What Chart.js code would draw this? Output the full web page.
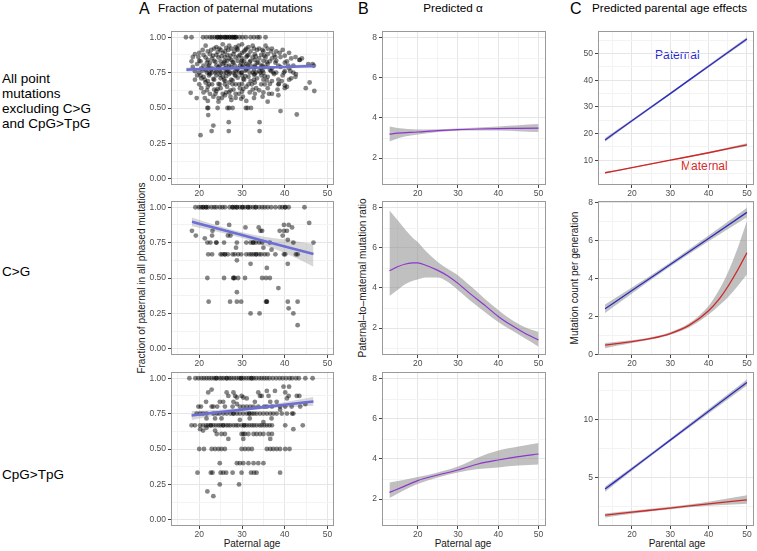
<!DOCTYPE html>
<html>
<head>
<meta charset="utf-8">
<script src="https://cdn.jsdelivr.net/npm/chart.js@4.4.0/dist/chart.umd.min.js"></script>
<style>
  body { margin: 0; background: #fff; width: 757px; height: 551px; position: relative; overflow: hidden; font-family: "Liberation Sans", Arial, sans-serif; }
  canvas { position: absolute; }
  .t { position: absolute; white-space: nowrap; color: #000; }
  .hd { font-size: 11.7px; line-height: 11.7px; }
  .big { font-size: 16px; line-height: 16px; }
  .row { font-size: 13.5px; line-height: 15px; left: 2px; }
  .ax { font-size: 10px; line-height: 10px; color: #1a1a1a; }
  .rot { transform: translate(-50%, -50%) rotate(-90deg); }
</style>
</head>
<body>
<div class="t big" style="left:139px;top:1px">A</div>
<div class="t hd" style="left:158px;top:2px">Fraction of paternal mutations</div>
<div class="t big" style="left:358px;top:1px">B</div>
<div class="t hd" style="left:453px;top:2px;transform:translateX(-50%)">Predicted α</div>
<div class="t big" style="left:570px;top:1px">C</div>
<div class="t hd" style="left:592px;top:2px">Predicted parental age effects</div>

<div class="t row" style="top:71px">All point<br>mutations<br>excluding C&gt;G<br>and CpG&gt;TpG</div>
<div class="t row" style="top:264px">C&gt;G</div>
<div class="t row" style="top:467px">CpG&gt;TpG</div>

<div class="t ax rot" style="left:142px;top:278px">Fraction of paternal in all phased mutations</div>
<div class="t ax rot" style="left:363px;top:278px">Paternal–to–maternal mutation ratio</div>
<div class="t ax rot" style="left:575px;top:278px">Mutation count per generation</div>

<div class="t ax" style="left:252px;top:539px;transform:translateX(-50%)">Paternal age</div>
<div class="t ax" style="left:463px;top:539px;transform:translateX(-50%)">Paternal age</div>
<div class="t ax" style="left:677px;top:539px;transform:translateX(-50%)">Parental age</div>

<div class="t" style="left:655px;top:49px;font-size:12px;line-height:12px;color:#2b2bd0">Paternal</div>
<div class="t" style="left:681px;top:160px;font-size:12px;line-height:12px;color:#d42a2a">Maternal</div>

<script>
// ---- column A: fraction of paternal mutations (age, fraction) ----
const allPts = [
  [16.9,1],[18.2,1],[20.9,1],[21.7,1],[22.5,1],[23.0,1],[23.6,1],[24.2,1],[24.6,1],[25.0,1],[25.5,1],[26.0,1],[26.5,1],[27.1,1],[27.7,1],
  [28.2,1],[28.6,1],[29.4,1],[30.1,1],[30.9,1],[32.0,1],[32.8,1],[33.6,1],[34.1,1],[35.5,1],[24.2,1],[26.0,1],[27.7,1],[28.2,1],
  [25.0,1],[26.5,1],[27.1,1],[28.6,1],
  [21.5,.94],[24.0,.93],[25.5,.95],[27.0,.94],[28.5,.93],[30.0,.95],[31.5,.93],[32.5,.94],[34.0,.92],[35.5,.94],[37.0,.92],[26.3,.925],[29.2,.94],
  [20.8,.91],[22.0,.90],[23.5,.92],[25.0,.91],[26.0,.90],[27.5,.92],[29.0,.91],[30.5,.90],[31.0,.92],[32.0,.90],[33.5,.91],[35.0,.90],
  [36.0,.92],[38.0,.90],[39.5,.91],[41.0,.89],[24.3,.895],[28.2,.90],
  [19.0,.88],[20.0,.89],[21.0,.875],[22.5,.88],[24.0,.875],[25.5,.89],[26.5,.875],[28.0,.88],[29.5,.875],[30.0,.889],[31.5,.875],
  [33.0,.88],[34.5,.875],[36.0,.88],[37.5,.875],[40.0,.87],[42.5,.86],[44.0,.85],
  [18.5,.86],[21.5,.857],[23.0,.85],[24.5,.857],[26.0,.86],[27.0,.85],[28.5,.857],[30.0,.85],[31.0,.86],[32.5,.857],[34.0,.85],
  [35.5,.857],[37.0,.85],[39.0,.86],[41.5,.85],
  [18.2,.83],[20.0,.833],[22.0,.84],[23.5,.833],[25.0,.83],[26.5,.833],[27.5,.84],[29.0,.833],[30.5,.83],[32.0,.833],[33.0,.84],
  [35.0,.833],[36.5,.83],[38.0,.833],[40.5,.83],[43.5,.84],[26.0,.833],[30.0,.833],
  [19.5,.81],[21.0,.8],[22.5,.82],[24.0,.8],[25.5,.81],[27.0,.8],[28.0,.82],[29.5,.8],[31.0,.81],[32.0,.8],[33.5,.82],[34.5,.8],
  [36.0,.81],[38.5,.8],[40.0,.82],[42.0,.8],[45.5,.81],[24.8,.8],[30.3,.8],[33.0,.8],
  [18.5,.79],[20.5,.78],[22.0,.79],[23.0,.78],[24.5,.789],[26.0,.78],[27.5,.79],[29.0,.78],[30.0,.789],[31.5,.78],[33.0,.79],
  [34.5,.78],[35.5,.79],[37.0,.78],[39.0,.79],[41.0,.78],
  [19.0,.76],[20.0,.75],[21.5,.77],[23.0,.75],[24.0,.76],[25.0,.75],[26.5,.77],[28.0,.75],[28.5,.76],[30.0,.75],[31.0,.77],[32.5,.75],
  [34.0,.76],[35.0,.75],[36.5,.77],[38.0,.75],[40.0,.76],[42.0,.75],[46.8,.8],[22.3,.75],[25.8,.75],[27.2,.75],[29.3,.75],[33.3,.75],
  [19.5,.73],[21.0,.72],[22.5,.74],[24.0,.73],[25.5,.72],[27.0,.74],[28.5,.727],[30.0,.73],[31.5,.72],[33.0,.74],[34.5,.73],[36.0,.72],
  [37.5,.74],[39.5,.73],[42.5,.72],
  [19.0,.70],[20.5,.71],[22.0,.69],[23.5,.70],[25.0,.71],[26.0,.69],[27.5,.70],[29.0,.714],[30.5,.70],[32.0,.69],[33.5,.71],[35.0,.70],
  [37.0,.69],[38.5,.70],[41.0,.70],
  [20.0,.667],[21.5,.68],[23.0,.667],[24.5,.67],[26.0,.667],[27.0,.68],[28.5,.667],[30.0,.67],[31.5,.667],[33.0,.68],[34.5,.667],
  [36.5,.67],[38.5,.667],[40.0,.66],[45.8,.68],
  [20.5,.64],[22.0,.65],[23.5,.63],[25.0,.64],[26.5,.65],[28.0,.63],[29.5,.64],[31.0,.65],[32.5,.63],[34.0,.625],[36.0,.64],[40.0,.64],[44.9,.64],
  [18.0,.607],[21.0,.61],[22.5,.60],[24.0,.62],[25.5,.60],[27.0,.61],[28.5,.60],[30.0,.615],[33.0,.60],[35.0,.61],[37.0,.60],[46.9,.62],
  [19.4,.57],[21.3,.57],[23.3,.58],[24.5,.57],[26.0,.59],[28.5,.571],[30.2,.58],[32.8,.57],[34.8,.58],[38.5,.59],
  [22.0,.55],[24.5,.545],[27.5,.556],[31.0,.55],[36.0,.545],
  [21.9,.5],[22.1,.5],[24.3,.5],[26.6,.5],[27.0,.5],[27.8,.5],[30.9,.5],[31.3,.5],[32.1,.5],
  [22.1,.45],[42.8,.454],[39.0,.478],[26.9,.40],[34.1,.40],[23.3,.376],[22.9,.337],[26.9,.337],[34.1,.337],[20.3,.308],
  [43.4,.84],[42.6,.74],[46.5,.81],[40.5,.65],[38.6,.67],[41.5,.71],
  // dense core of the cloud
  [22.8,.91],[24.7,.92],[26.8,.91],[28.8,.92],[30.8,.91],[32.8,.92],[34.8,.91],[23.2,.87],[25.2,.865],[27.3,.87],[29.2,.865],
  [31.2,.87],[33.2,.865],[35.2,.87],[21.8,.82],[23.8,.825],[25.8,.82],[27.8,.825],[29.8,.82],[31.8,.825],[33.8,.82],[35.8,.825],
  [37.8,.82],[22.3,.80],[26.3,.80],[28.3,.80],[31.3,.80],[34.8,.80],[20.8,.765],[22.8,.77],[24.8,.765],[26.8,.76],[28.8,.77],
  [30.8,.765],[32.8,.77],[34.8,.765],[36.8,.76],[21.8,.75],[23.8,.75],[26.3,.75],[29.8,.75],[31.8,.75],[34.3,.75],[37.3,.75],
  [22.3,.73],[24.8,.735],[26.3,.725],[28.3,.735],[30.8,.725],[32.8,.735],[35.3,.725],[21.3,.70],[23.3,.705],[25.8,.70],[27.8,.695],
  [30.3,.705],[32.8,.70],[35.8,.695],[22.3,.667],[24.8,.667],[27.8,.667],[29.3,.667],[32.3,.667],[35.3,.667],[21.8,.625],
  [24.3,.635],[27.3,.625],[30.3,.635],[33.3,.64],[23.8,.60],[26.3,.61],[29.3,.60],[31.8,.61],[25.3,.57],[27.3,.58],[29.8,.565],
  [36.3,.60],[38.3,.63],[39.3,.69],[39.8,.75],[40.8,.80],[41.3,.76],[37.8,.86],[38.8,.89],[36.8,.90],[20.3,.83],[19.8,.86],[20.3,.73]
];

// C>G: rows of [fraction, ages]
const cgRows = [
  [1.0, [19.1,19.9,20.4,20.9,21.6,22.1,22.9,23.5,24.0,24.8,25.4,26.0,27.1,27.8,28.3,28.8,29.5,30.1,30.7,31.4,31.9,32.6,33.2,34.0,
         34.7,35.3,36.0,36.8,37.8,38.8,39.4,40.1,40.9,44.6,20.9,21.6,27.8,28.8,30.1,31.4,33.2,40.1]],
  [0.889, [24.2, 45.7]],
  [0.875, [27.0, 39.8, 40.9]],
  [0.857, [30.8, 33.9, 41.7]],
  [0.833, [18.3, 23.1, 34.3, 34.7, 38.8, 39.8, 40.5]],
  [0.8, [19.2, 23.0, 26.7, 27.3, 39.5]],
  [0.78, [21.3]],
  [0.77, [40.7]],
  [0.75, [21.9, 22.6, 24.0, 25.8, 28.8, 31.0, 32.0, 32.6, 33.2, 34.0, 34.7, 36.5, 42.0, 46.7, 24.0, 32.6]],
  [0.714, [28.6, 35.0]],
  [0.70, [36.9]],
  [0.667, [22.1, 23.0, 25.0, 25.4, 26.0, 26.7, 27.8, 28.3, 29.1, 29.8, 31.0, 31.7, 32.2, 32.7, 33.3, 34.0, 34.5, 35.3, 36.0,
           37.8, 39.8, 40.1, 42.6, 43.0, 26.0, 33.3]],
  [0.625, [28.8]],
  [0.60, [32.0, 40.7]],
  [0.571, [35.8]],
  [0.5, [21.9, 25.8, 28.0, 28.3, 29.1, 30.7, 34.7, 35.6, 36.5, 28.0]],
  [0.429, [38.5]],
  [0.4, [28.8]],
  [0.333, [22.2, 27.2, 28.8, 29.8, 35.6, 35.8, 40.7, 43.0, 35.8]],
  [0.286, [40.9]],
  [0.25, [32.0, 34.1, 42.0]],
  [0.167, [43.0]]
];

// CpG>TpG: rows of [fraction, ages]
const cpgRows = [
  [1.0, [17.7,19.1,19.8,20.5,21.1,21.7,22.3,22.9,23.5,24.0,24.7,25.2,25.7,26.4,27.0,27.5,28.1,28.7,29.3,29.8,30.4,31.0,31.6,32.2,
         32.7,33.3,34.0,34.6,35.2,35.8,36.4,37.2,38.0,38.8,39.5,40.3,41.1,41.7,42.6,43.3,44.8,46.5,24.0,26.4,29.8,32.2]],
  [0.94, [39.7, 41.0]],
  [0.92, [22.9]],
  [0.91, [35.8, 37.7]],
  [0.90, [22.1, 26.4, 28.0, 33.8, 40.1]],
  [0.875, [26.8, 28.4, 29.9, 34.2, 34.6, 36.2, 40.9, 42.8, 43.4]],
  [0.864, [28.8, 30.3]],
  [0.857, [31.1, 40.5]],
  [0.833, [21.6, 24.8, 25.6, 28.0, 33.0, 36.6, 38.1]],
  [0.818, [28.8, 44.8]],
  [0.8, [19.8, 20.4, 22.9, 23.3, 24.2, 26.0, 27.8, 29.5, 30.3, 31.1, 31.9, 32.7, 33.8, 35.2, 35.8, 37.0, 38.9, 40.1, 41.6, 43.6]],
  [0.778, [38.9]],
  [0.75, [19.4, 20.2, 20.9, 21.7, 23.3, 24.1, 24.7, 25.6, 26.4, 27.3, 28.0, 28.8, 29.5, 30.3, 31.1, 31.7, 32.3, 32.8, 33.4, 34.2,
          35.0, 35.8, 36.6, 37.3, 38.1, 39.3, 40.5, 41.7, 42.0, 28.0, 31.7]],
  [0.716, [21.7, 23.7, 25.2, 31.8, 36.9]],
  [0.706, [29.5]],
  [0.69, [35.0]],
  [0.667, [18.2, 19.0, 20.2, 20.9, 21.6, 22.1, 22.7, 23.3, 23.9, 24.5, 25.0, 25.6, 26.3, 26.8, 27.3, 28.0, 28.6, 29.1, 29.9, 30.5,
           31.1, 31.7, 32.3, 32.8, 33.4, 34.1, 34.6, 35.2, 35.8, 36.4, 37.0, 40.1, 44.2, 22.7, 25.6, 30.5]],
  [0.65, [21.7]],
  [0.64, [20.2, 42.0]],
  [0.63, [20.9, 23.7]],
  [0.606, [24.1, 25.2, 26.0, 29.9, 30.3, 30.7, 31.5, 32.7, 33.4, 34.2, 35.0, 36.2, 37.0]],
  [0.571, [26.8, 30.3, 36.6]],
  [0.5, [20.0, 21.1, 22.9, 23.7, 24.5, 25.2, 26.0, 29.9, 30.7, 31.5, 32.3, 35.8, 36.6, 37.3, 38.1, 38.9, 40.1, 41.1]],
  [0.4, [24.8, 28.8, 29.5, 30.3, 31.5, 32.7, 33.8, 35.0]],
  [0.333, [19.6, 22.7, 23.1, 25.0, 25.6, 26.3, 27.8, 29.9, 32.1, 32.8, 33.4, 38.9]],
  [0.25, [24.8, 29.3]],
  [0.2, [21.9]],
  [0.167, [23.3]]
];

// linear fits with confidence band (column A)
const allFitX = [17, 25, 32, 40, 47];
const allFit  = [0.771, 0.778, 0.784, 0.790, 0.797];
const allLo   = [0.756, 0.769, 0.777, 0.781, 0.781];
const allHi   = [0.786, 0.787, 0.791, 0.799, 0.813];

const cgFitX = [18.3, 24, 30, 36, 42, 46.7];
const cgFit  = [0.897, 0.851, 0.803, 0.755, 0.707, 0.669];
const cgLo   = [0.866, 0.829, 0.782, 0.722, 0.650, 0.580];
const cgHi   = [0.928, 0.873, 0.824, 0.788, 0.764, 0.740];

const cpgFitX = [18.2, 25, 32, 40, 46.7];
const cpgFit  = [0.737, 0.761, 0.785, 0.813, 0.836];
const cpgLo   = [0.705, 0.744, 0.773, 0.795, 0.805];
const cpgHi   = [0.769, 0.778, 0.797, 0.831, 0.867];

// ---- column B: predicted alpha ----
const allAlphaX = [13, 15, 20, 25, 30, 35, 40, 45, 50];
const allAlpha  = [3.19, 3.24, 3.30, 3.37, 3.42, 3.45, 3.47, 3.48, 3.49];
const allAlphaLo = [2.83, 2.98, 3.17, 3.30, 3.36, 3.38, 3.37, 3.34, 3.30];
const allAlphaHi = [3.57, 3.50, 3.43, 3.44, 3.48, 3.52, 3.58, 3.64, 3.70];

const cgAlphaX = [13, 15, 17, 19, 20, 22, 25, 27.5, 30, 33, 36.5, 40, 43, 46.5, 50];
const cgAlpha  = [4.86, 5.06, 5.20, 5.26, 5.26, 5.14, 4.88, 4.60, 4.23, 3.72, 3.16, 2.58, 2.17, 1.75, 1.40];
const cgAlphaLo = [3.60, 3.90, 4.20, 4.38, 4.43, 4.52, 4.53, 4.30, 3.90, 3.38, 2.83, 2.30, 1.92, 1.50, 1.06];
const cgAlphaHi = [7.87, 7.40, 6.90, 6.46, 6.30, 5.85, 5.30, 4.95, 4.64, 4.12, 3.49, 2.90, 2.45, 2.05, 1.80];

const cpgAlphaX = [13, 16.5, 20, 25, 30, 35, 40, 45, 50];
const cpgAlpha  = [2.33, 2.62, 2.92, 3.20, 3.45, 3.75, 3.95, 4.12, 4.25];
const cpgAlphaLo = [2.05, 2.42, 2.75, 3.08, 3.33, 3.50, 3.58, 3.67, 3.72];
const cpgAlphaHi = [2.83, 2.95, 3.10, 3.33, 3.62, 4.08, 4.42, 4.62, 4.80];

// ---- column C: predicted counts, paternal and maternal ----
const ageX = [13, 20, 30, 40, 50];
const allPat   = [17.6, 24.8, 35.0, 45.3, 55.5];
const allPatLo = [16.9, 24.3, 34.6, 44.8, 54.8];
const allPatHi = [18.3, 25.3, 35.4, 45.8, 56.2];
const allMat   = [5.3, 7.2, 10.0, 12.8, 15.8];
const allMatLo = [5.0, 7.0, 9.8, 12.5, 15.2];
const allMatHi = [5.6, 7.4, 10.2, 13.1, 16.4];

const cgPat   = [2.40, 3.36, 4.73, 6.10, 7.47];
const cgPatLo = [2.18, 3.20, 4.62, 5.95, 7.22];
const cgPatHi = [2.62, 3.52, 4.84, 6.25, 7.72];
const cgMatX  = [13, 16, 20, 25, 30, 35, 40, 42.9, 45, 47.6, 50];
const cgMat   = [0.49, 0.57, 0.67, 0.84, 1.10, 1.54, 2.30, 2.95, 3.56, 4.44, 5.35];
const cgMatLo = [0.33, 0.45, 0.60, 0.78, 1.03, 1.43, 2.10, 2.60, 3.00, 3.60, 4.20];
const cgMatHi = [0.60, 0.67, 0.75, 0.90, 1.17, 1.65, 2.55, 3.45, 4.30, 5.60, 7.00];

const cpgPat   = [4.03, 5.75, 8.22, 10.69, 13.15];
const cpgPatLo = [3.80, 5.60, 8.10, 10.50, 12.90];
const cpgPatHi = [4.25, 5.90, 8.35, 10.88, 13.40];
const cpgMat   = [1.80, 2.05, 2.40, 2.77, 3.10];
const cpgMatLo = [1.60, 1.92, 2.30, 2.60, 2.78];
const cpgMatHi = [1.95, 2.18, 2.52, 2.95, 3.50];

// axis ticks
const ageMajor = [20, 30, 40, 50], ageMinor = [15, 25, 35, 45];
const fracMajor = [0, 0.25, 0.5, 0.75, 1], fracMinor = [0.125, 0.375, 0.625, 0.875];
const alphaMajor = [2, 4, 6, 8], alphaMinor = [1, 3, 5, 7];
const c1Major = [10, 20, 30, 40, 50], c1Minor = [5, 15, 25, 35, 45, 55];
const c2Major = [0, 2, 4, 6, 8], c2Minor = [1, 3, 5, 7];
const c3Major = [5, 10], c3Minor = [2.5, 7.5, 12.5];

// layout
const colA = {l: 171, w: 163, xr: [13.4, 51.5]};
const colB = {l: 382, w: 164, xr: [11.15, 51.85]};
const colC = {l: 598, w: 156, xr: [11.15, 51.85]};
const rowTops = [31, 201, 372];
const panelH = 154;

const BLUE = '#2a2ac2', RED = '#d02626', PURPLE = '#8d35cf', FITA = '#6b6fd6';
const BAND_A = 'rgba(150,150,150,0.38)', BAND = 'rgba(140,140,140,0.55)';

const pts = (xs, ys) => xs.map((x, i) => ({x: x, y: ys[i]}));
const rowPts = rows => rows.flatMap(([y, xs]) => xs.map(x => ({x: x, y: y})));

function line(xs, ys, color, w) {
  return {data: pts(xs, ys), showLine: true, borderColor: color, borderWidth: w, pointRadius: 0,
          fill: false, cubicInterpolationMode: 'monotone'};
}
function band(xs, lo, hi, color) {
  const base = {showLine: true, borderWidth: 0, borderColor: 'rgba(0,0,0,0)', pointRadius: 0, cubicInterpolationMode: 'monotone'};
  return [
    Object.assign({data: pts(xs, lo), fill: false}, base),
    Object.assign({data: pts(xs, hi), fill: '-1', backgroundColor: color}, base)
  ];
}
function dots(data) {
  return {data: data, pointRadius: 2.4, backgroundColor: 'rgba(0,0,0,0.48)', borderWidth: 0, showLine: false};
}

const frame = {
  id: 'frame',
  afterDraw(chart) {
    const a = chart.chartArea, g = chart.ctx;
    g.save();
    g.strokeStyle = '#9a9a9a';
    g.lineWidth = 1;
    g.strokeRect(Math.round(a.left) + 0.5, Math.round(a.top) + 0.5, Math.round(a.width) - 1, Math.round(a.height) - 1);
    g.restore();
  }
};

function axis(range, major, minor, fmt, isX) {
  return {
    type: 'linear', min: range[0], max: range[1],
    afterBuildTicks: s => { s.ticks = major.concat(minor).sort((a, b) => a - b).map(v => ({value: v})); },
    afterFit: s => { if (isX) s.height = 20; else s.width = 45; },
    border: {display: false},
    grid: {
      color: c => major.includes(c.tick.value) ? '#e6e6e6' : '#f3f3f3',
      tickColor: c => major.includes(c.tick.value) ? '#444' : 'rgba(0,0,0,0)',
      tickLength: 3, lineWidth: 1
    },
    ticks: {
      autoSkip: false, maxRotation: 0, padding: isX ? 1 : 2, color: '#4d4d4d',
      font: {family: 'Liberation Sans', size: 8.5},
      callback: v => major.includes(v) ? fmt(v) : ''
    }
  };
}

function panel(col, row, yr, yMajor, yMinor, fmt, datasets) {
  const cv = document.createElement('canvas');
  const w = col.w + 45 + 12, h = panelH + 10 + 20;
  cv.width = w; cv.height = h;
  cv.style.left = (col.l - 45) + 'px';
  cv.style.top = (rowTops[row] - 10) + 'px';
  cv.style.width = w + 'px'; cv.style.height = h + 'px';
  document.body.appendChild(cv);
  new Chart(cv, {
    type: 'scatter',
    data: {datasets: datasets},
    options: {
      responsive: false, animation: false, devicePixelRatio: 1,
      layout: {padding: {top: 10, right: 12, left: 0, bottom: 0}, autoPadding: false},
      plugins: {legend: {display: false}, tooltip: {enabled: false}, filler: {drawTime: 'beforeDatasetsDraw'}},
      scales: {
        x: axis(col.xr, ageMajor, ageMinor, v => String(v), true),
        y: axis(yr, yMajor, yMinor, fmt, false)
      }
    },
    plugins: [frame]
  });
}

const f2 = v => v.toFixed(2), f0 = v => String(v);
const fracR = [-0.044, 1.044], alphaR = [0.65, 8.35];

// column A
panel(colA, 0, fracR, fracMajor, fracMinor, f2,
  [line(allFitX, allFit, FITA, 2.6), dots(allPts.map(p => ({x: p[0], y: p[1]}))), ...band(allFitX, allLo, allHi, BAND_A)]);
panel(colA, 1, fracR, fracMajor, fracMinor, f2,
  [line(cgFitX, cgFit, FITA, 2.6), dots(rowPts(cgRows)), ...band(cgFitX, cgLo, cgHi, BAND_A)]);
panel(colA, 2, fracR, fracMajor, fracMinor, f2,
  [line(cpgFitX, cpgFit, FITA, 2.6), dots(rowPts(cpgRows)), ...band(cpgFitX, cpgLo, cpgHi, BAND_A)]);

// column B
panel(colB, 0, alphaR, alphaMajor, alphaMinor, f0,
  [line(allAlphaX, allAlpha, PURPLE, 1.2), ...band(allAlphaX, allAlphaLo, allAlphaHi, BAND)]);
panel(colB, 1, alphaR, alphaMajor, alphaMinor, f0,
  [line(cgAlphaX, cgAlpha, PURPLE, 1.2), ...band(cgAlphaX, cgAlphaLo, cgAlphaHi, BAND)]);
panel(colB, 2, alphaR, alphaMajor, alphaMinor, f0,
  [line(cpgAlphaX, cpgAlpha, PURPLE, 1.2), ...band(cpgAlphaX, cpgAlphaLo, cpgAlphaHi, BAND)]);

// column C
panel(colC, 0, [0.7, 58.5], c1Major, c1Minor, f0,
  [line(ageX, allPat, BLUE, 1.3), line(ageX, allMat, RED, 1.3),
   ...band(ageX, allPatLo, allPatHi, BAND), ...band(ageX, allMatLo, allMatHi, BAND)]);
panel(colC, 1, [-0.03, 8.07], c2Major, c2Minor, f0,
  [line(ageX, cgPat, BLUE, 1.3), line(cgMatX, cgMat, RED, 1.3),
   ...band(ageX, cgPatLo, cgPatHi, BAND), ...band(cgMatX, cgMatLo, cgMatHi, BAND)]);
panel(colC, 2, [0.87, 14.05], c3Major, c3Minor, f0,
  [line(ageX, cpgPat, BLUE, 1.3), line(ageX, cpgMat, RED, 1.3),
   ...band(ageX, cpgPatLo, cpgPatHi, BAND), ...band(ageX, cpgMatLo, cpgMatHi, BAND)]);
</script>
</body>
</html>
